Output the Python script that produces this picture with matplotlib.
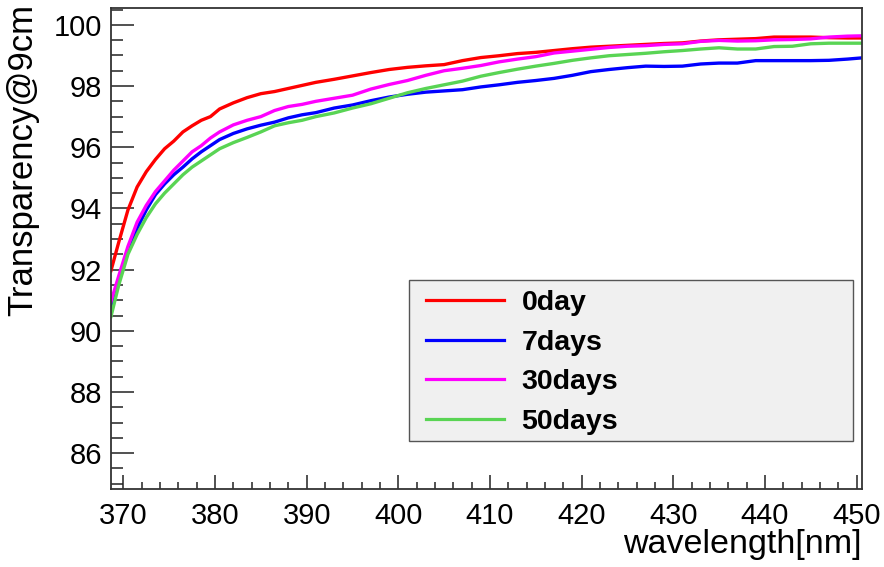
import matplotlib
matplotlib.use("Agg")
import matplotlib.pyplot as plt
from matplotlib.ticker import MultipleLocator
from matplotlib.patches import Rectangle

plt.rcParams['font.family'] = ['Liberation Sans', 'DejaVu Sans']

wavelength = [368.65, 369.5, 370.5, 371.5, 372.5, 373.5, 374.5, 375.5, 376.5, 377.5,
              378.5, 379.5, 380.5, 382, 383.5, 385, 386.5, 388, 389.5, 391,
              393, 395, 397, 399, 401, 403, 405, 407, 409, 411,
              413, 415, 417, 419, 421, 423, 425, 427, 429, 431,
              433, 435, 437, 439, 441, 443, 445, 447, 449, 450.6]

day0 = [91.97, 92.9, 93.95, 94.7, 95.2, 95.6, 95.95, 96.2, 96.5, 96.7,
        96.88, 97.0, 97.25, 97.45, 97.62, 97.75, 97.82, 97.92, 98.02, 98.12,
        98.22, 98.33, 98.44, 98.54, 98.61, 98.66, 98.70, 98.83, 98.93, 98.99,
        99.06, 99.1, 99.16, 99.22, 99.27, 99.3, 99.33, 99.36, 99.39, 99.41,
        99.47, 99.51, 99.53, 99.55, 99.6, 99.6, 99.6, 99.58, 99.57, 99.57]

day7 = [90.74, 91.6, 92.59, 93.35, 93.95, 94.45, 94.8, 95.1, 95.35, 95.62,
        95.85, 96.05, 96.25, 96.45, 96.6, 96.72, 96.82, 96.96, 97.06, 97.13,
        97.28, 97.38, 97.52, 97.64, 97.73, 97.8, 97.84, 97.88, 97.97, 98.04,
        98.12, 98.18, 98.25, 98.35, 98.47, 98.54, 98.6, 98.65, 98.64, 98.65,
        98.72, 98.75, 98.75, 98.83, 98.83, 98.83, 98.83, 98.84, 98.88, 98.92]

day30 = [90.96, 91.8, 92.76, 93.55, 94.1, 94.55, 94.9, 95.25, 95.55, 95.85,
         96.05, 96.3, 96.5, 96.73, 96.88, 97.0, 97.2, 97.33, 97.4, 97.5,
         97.6, 97.7, 97.9, 98.05, 98.18, 98.35, 98.5, 98.58, 98.67, 98.79,
         98.88, 98.96, 99.08, 99.14, 99.2, 99.26, 99.3, 99.32, 99.36, 99.38,
         99.46, 99.49, 99.47, 99.48, 99.51, 99.52, 99.54, 99.6, 99.63, 99.64]

day50 = [90.47, 91.5, 92.5, 93.15, 93.7, 94.15, 94.5, 94.8, 95.1, 95.35,
         95.55, 95.75, 95.95, 96.15, 96.32, 96.5, 96.7, 96.8, 96.88, 97.0,
         97.12, 97.28, 97.42, 97.6, 97.78, 97.92, 98.04, 98.16, 98.32, 98.44,
         98.55, 98.65, 98.74, 98.84, 98.92, 98.99, 99.03, 99.07, 99.12, 99.16,
         99.21, 99.25, 99.21, 99.21, 99.29, 99.3, 99.38, 99.4, 99.4, 99.4]

series_labels = ['0day', '7days', '30days', '50days']
series_values = [day0, day7, day30, day50]
series_colors = ['#ff0000', '#0000ff', '#ff00ff', '#59d454']

W, H = 884, 567
fig = plt.figure(figsize=(W/100, H/100), dpi=100)
L, R, T, B = 111, 862, 8, 489
ax = fig.add_axes([L/W, 1-B/H, (R-L)/W, (B-T)/H])
aw, ah = R-L, B-T

for lab, vals, col in zip(series_labels, series_values, series_colors):
    ax.plot(wavelength, vals, color=col, lw=2.4, label=lab, solid_joinstyle='round')

ax.set_xlim(368.65, 450.6)
ax.set_ylim(84.83, 100.55)

ax.xaxis.set_major_locator(MultipleLocator(10))
ax.xaxis.set_minor_locator(MultipleLocator(2))
ax.yaxis.set_major_locator(MultipleLocator(2))
ax.yaxis.set_minor_locator(MultipleLocator(0.5))

tc = '#222222'
ax.tick_params(axis='x', which='major', direction='in', length=10, width=1.1,
               labelsize=21, pad=9, color=tc)
ax.tick_params(axis='x', which='minor', direction='in', length=5, width=1.1, color=tc)
ax.tick_params(axis='y', which='major', direction='in', length=16.5, width=1.1,
               labelsize=21, pad=6.5, color=tc)
ax.tick_params(axis='y', which='minor', direction='in', length=8.5, width=1.1, color=tc)

for s in ax.spines.values():
    s.set_color('#333333')
    s.set_linewidth(1.3)

ax.set_xlabel('wavelength[nm]', fontsize=24.5)
ax.xaxis.label.set_horizontalalignment('right')
ax.xaxis.set_label_coords(1.0, -(529-B)/ah)
ax.set_ylabel('Transparency@9cm', fontsize=25)
ax.yaxis.label.set_horizontalalignment('right')
ax.yaxis.set_label_coords(-(L-39)/aw, 1.0 + (T-4)/ah)

# legend box
bx0, bx1, by0, by1 = 409, 853, 280, 441
ax.add_patch(Rectangle(((bx0-L)/aw, (B-by1)/ah), (bx1-bx0)/aw, (by1-by0)/ah,
                       transform=ax.transAxes, facecolor='#f0f0f0', edgecolor='#555555',
                       linewidth=1.0, zorder=4, clip_on=False))

leg = ax.legend(loc='upper left', bbox_to_anchor=((426-L)/aw, (B-290)/ah),
                prop={'weight': 'bold', 'size': 20.5},
                frameon=False, borderpad=0, labelspacing=0.48,
                handlelength=2.75, handletextpad=0.6, borderaxespad=0)
leg.set_zorder(5)
for h in leg.get_lines():
    h.set_linewidth(2.3)

fig.savefig('out.png', dpi=100)
